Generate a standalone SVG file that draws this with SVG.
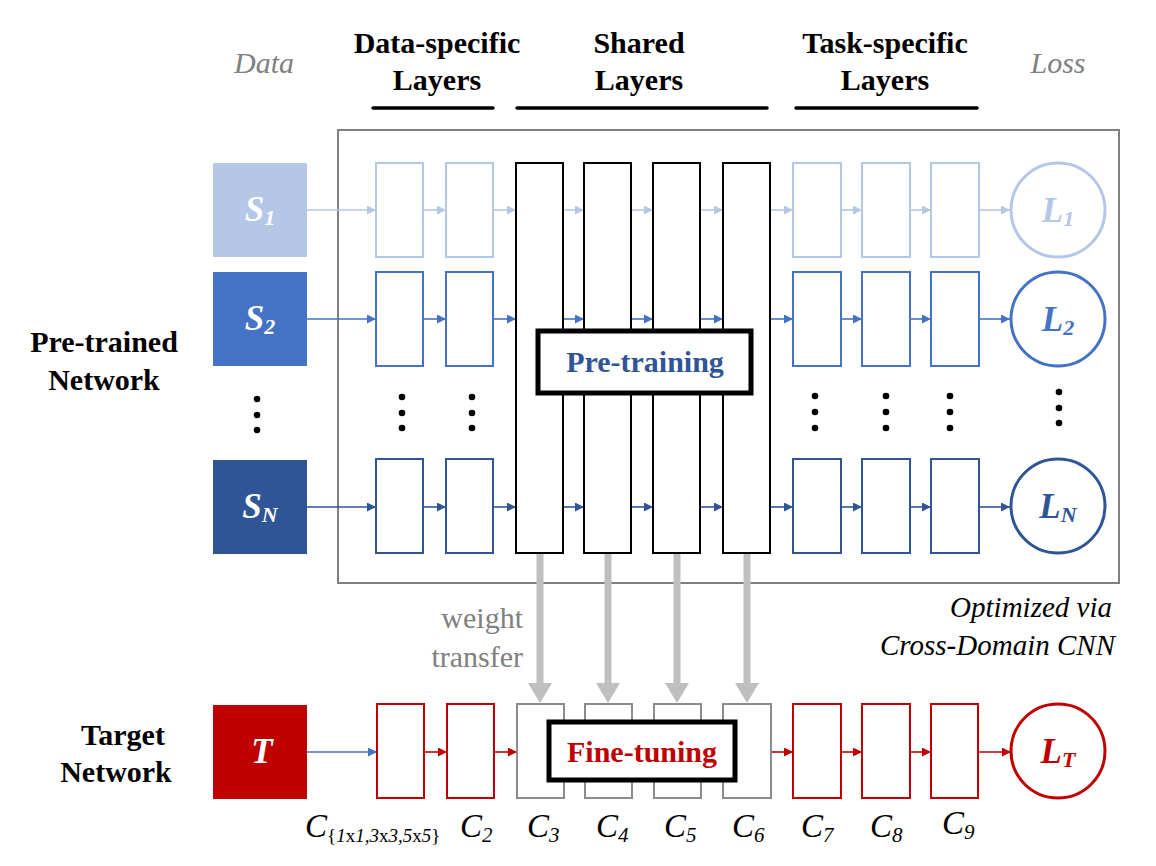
<svg xmlns="http://www.w3.org/2000/svg" width="1156" height="866" viewBox="0 0 1156 866">
<defs>
<style>
text{font-family:"Liberation Serif","Times New Roman",serif;}
.hdr{font-size:30px;font-weight:bold;fill:#000;text-anchor:middle;}
.gi{font-size:30px;font-style:italic;fill:#808080;text-anchor:middle;}
.lbl{font-size:30px;font-weight:bold;fill:#000;text-anchor:middle;}
.sym{font-size:35px;font-weight:bold;font-style:italic;text-anchor:middle;}
.cl{font-size:33px;font-style:italic;fill:#000;}
.r1{fill:#fff;stroke:#B4C7E7;stroke-width:2;}
.r2{fill:#fff;stroke:#4472C4;stroke-width:2;}
.rN{fill:#fff;stroke:#2F5597;stroke-width:2;}
.rR{fill:#fff;stroke:#C00000;stroke-width:2;}
.rG{fill:#fff;stroke:#8C8C8C;stroke-width:2;}
.sh{fill:#fff;stroke:#000;stroke-width:2;}
.a1{stroke:#B4C7E7;stroke-width:1.6;fill:none;marker-end:url(#m1);}
.a2{stroke:#4472C4;stroke-width:1.6;fill:none;marker-end:url(#m2);}
.aN{stroke:#2F5597;stroke-width:1.6;fill:none;marker-end:url(#mN);}
.aR{stroke:#C00000;stroke-width:1.6;fill:none;marker-end:url(#mR);}
.wt{stroke:#BFBFBF;stroke-width:7;fill:none;marker-end:url(#mW);}
.ul{stroke:#000;stroke-width:3.5;stroke-linecap:round;}
.dot{fill:#000;}
</style>
<marker id="m1" viewBox="0 0 10 10" refX="10" refY="5" markerWidth="9" markerHeight="9" markerUnits="userSpaceOnUse" orient="auto"><path d="M0,0 L10,5 L0,10 z" fill="#B4C7E7"/></marker>
<marker id="m2" viewBox="0 0 10 10" refX="10" refY="5" markerWidth="9" markerHeight="9" markerUnits="userSpaceOnUse" orient="auto"><path d="M0,0 L10,5 L0,10 z" fill="#4472C4"/></marker>
<marker id="mN" viewBox="0 0 10 10" refX="10" refY="5" markerWidth="9" markerHeight="9" markerUnits="userSpaceOnUse" orient="auto"><path d="M0,0 L10,5 L0,10 z" fill="#2F5597"/></marker>
<marker id="mR" viewBox="0 0 10 10" refX="10" refY="5" markerWidth="9" markerHeight="9" markerUnits="userSpaceOnUse" orient="auto"><path d="M0,0 L10,5 L0,10 z" fill="#C00000"/></marker>
<marker id="mW" viewBox="0 0 20 24" refX="7" refY="12" markerWidth="20" markerHeight="24" markerUnits="userSpaceOnUse" orient="auto"><path d="M0,0 L20,12 L0,24 z" fill="#BFBFBF"/></marker>
</defs>
<rect width="1156" height="866" fill="#fff"/>

<g id="headers">
<text class="gi" x="264" y="73">Data</text>
<text class="hdr" x="437" y="53">Data-specific</text>
<text class="hdr" x="437" y="90">Layers</text>
<line class="ul" x1="373" y1="108" x2="493" y2="108"/>
<text class="hdr" x="639" y="53">Shared</text>
<text class="hdr" x="639" y="90">Layers</text>
<line class="ul" x1="517" y1="108" x2="767" y2="108"/>
<text class="hdr" x="885" y="53">Task-specific</text>
<text class="hdr" x="885" y="90">Layers</text>
<line class="ul" x1="796" y1="108" x2="977" y2="108"/>
<text class="gi" x="1058" y="73">Loss</text>
</g>

<g id="side-labels">
<text class="lbl" x="104" y="352">Pre-trained</text>
<text class="lbl" x="104" y="390">Network</text>
<text class="lbl" x="123" y="745">Target</text>
<text class="lbl" x="116" y="782">Network</text>
</g>

<g id="cross-domain-box">
<rect x="338" y="130" width="781" height="453" fill="none" stroke="#808080" stroke-width="2"/>
<text x="1112" y="617" font-size="29" font-style="italic" text-anchor="end" fill="#000">Optimized via</text>
<text x="1115" y="655" font-size="29" font-style="italic" text-anchor="end" fill="#000">Cross-Domain CNN</text>
</g>

<g id="connectors">
<line class="a1" x1="307" y1="210" x2="376" y2="210"/>
<line class="a1" x1="423" y1="210" x2="446" y2="210"/>
<line class="a1" x1="493" y1="210" x2="516" y2="210"/>
<line class="a1" x1="563" y1="210" x2="584" y2="210"/>
<line class="a1" x1="631" y1="210" x2="653" y2="210"/>
<line class="a1" x1="700" y1="210" x2="723" y2="210"/>
<line class="a1" x1="770" y1="210" x2="793" y2="210"/>
<line class="a1" x1="841" y1="210" x2="862" y2="210"/>
<line class="a1" x1="910" y1="210" x2="931" y2="210"/>
<line class="a1" x1="979" y1="210" x2="1010" y2="210"/>

<line class="a2" x1="307" y1="319" x2="376" y2="319"/>
<line class="a2" x1="423" y1="319" x2="446" y2="319"/>
<line class="a2" x1="493" y1="319" x2="516" y2="319"/>
<line class="a2" x1="563" y1="319" x2="584" y2="319"/>
<line class="a2" x1="631" y1="319" x2="653" y2="319"/>
<line class="a2" x1="700" y1="319" x2="723" y2="319"/>
<line class="a2" x1="770" y1="319" x2="793" y2="319"/>
<line class="a2" x1="841" y1="319" x2="862" y2="319"/>
<line class="a2" x1="910" y1="319" x2="931" y2="319"/>
<line class="a2" x1="979" y1="319" x2="1010" y2="319"/>

<line class="aN" x1="307" y1="507" x2="376" y2="507"/>
<line class="aN" x1="423" y1="507" x2="446" y2="507"/>
<line class="aN" x1="493" y1="507" x2="516" y2="507"/>
<line class="aN" x1="563" y1="507" x2="584" y2="507"/>
<line class="aN" x1="631" y1="507" x2="653" y2="507"/>
<line class="aN" x1="700" y1="507" x2="723" y2="507"/>
<line class="aN" x1="770" y1="507" x2="793" y2="507"/>
<line class="aN" x1="841" y1="507" x2="862" y2="507"/>
<line class="aN" x1="910" y1="507" x2="931" y2="507"/>
<line class="aN" x1="979" y1="507" x2="1010" y2="507"/>

<line class="a2" x1="307" y1="752" x2="377" y2="752"/>
<line class="aR" x1="424" y1="752" x2="447" y2="752"/>
<line class="aR" x1="494" y1="752" x2="517" y2="752"/>
<line class="aR" x1="771" y1="752" x2="793" y2="752"/>
<line class="aR" x1="841" y1="752" x2="862" y2="752"/>
<line class="aR" x1="910" y1="752" x2="931" y2="752"/>
<line class="aR" x1="978" y1="752" x2="1011" y2="752"/>

<line class="wt" x1="540" y1="553" x2="540" y2="690"/>
<line class="wt" x1="608" y1="553" x2="608" y2="690"/>
<line class="wt" x1="677" y1="553" x2="677" y2="690"/>
<line class="wt" x1="747" y1="553" x2="747" y2="690"/>
</g>

<g id="weight-transfer-label">
<text x="523" y="628" font-size="30" text-anchor="end" fill="#808080">weight</text>
<text x="523" y="667" font-size="30" text-anchor="end" fill="#808080">transfer</text>
</g>

<g id="data-S1">
<rect x="213" y="163" width="94" height="94" fill="#B4C7E7"/>
<text class="sym" x="260" y="221" fill="#fff">S<tspan font-size="22" dy="4">1</tspan></text>
</g>
<g id="data-S2">
<rect x="213" y="272" width="94" height="94" fill="#4472C4"/>
<text class="sym" x="260" y="330" fill="#fff">S<tspan font-size="22" dy="4">2</tspan></text>
</g>
<g id="data-SN">
<rect x="213" y="460" width="94" height="94" fill="#2F5597"/>
<text class="sym" x="260" y="518" fill="#fff">S<tspan font-size="22" dy="4">N</tspan></text>
</g>
<g id="data-T">
<rect x="213" y="705" width="94" height="94" fill="#C00000"/>
<text class="sym" x="262" y="763" fill="#fff">T</text>
</g>

<g id="data-specific-layers">
<rect class="r1" x="376" y="163" width="47" height="94"/>
<rect class="r1" x="446" y="163" width="47" height="94"/>
<rect class="r2" x="376" y="272" width="47" height="94"/>
<rect class="r2" x="446" y="272" width="47" height="94"/>
<rect class="rN" x="376" y="459" width="47" height="94"/>
<rect class="rN" x="446" y="459" width="47" height="94"/>
</g>

<g id="shared-layers">
<rect class="sh" x="516" y="163" width="47" height="390"/>
<rect class="sh" x="584" y="163" width="47" height="390"/>
<rect class="sh" x="653" y="163" width="47" height="390"/>
<rect class="sh" x="723" y="163" width="47" height="390"/>
</g>

<g id="task-specific-layers">
<rect class="r1" x="793" y="163" width="48" height="94"/>
<rect class="r1" x="862" y="163" width="48" height="94"/>
<rect class="r1" x="931" y="163" width="48" height="94"/>
<rect class="r2" x="793" y="272" width="48" height="94"/>
<rect class="r2" x="862" y="272" width="48" height="94"/>
<rect class="r2" x="931" y="272" width="48" height="94"/>
<rect class="rN" x="793" y="459" width="48" height="94"/>
<rect class="rN" x="862" y="459" width="48" height="94"/>
<rect class="rN" x="931" y="459" width="48" height="94"/>
</g>

<g id="loss-L1">
<circle cx="1058" cy="210" r="47" fill="#fff" stroke="#B4C7E7" stroke-width="3"/>
<text class="sym" x="1058" y="222" fill="#B4C7E7">L<tspan font-size="22" dy="4">1</tspan></text>
</g>
<g id="loss-L2">
<circle cx="1058" cy="319" r="47" fill="#fff" stroke="#4472C4" stroke-width="3"/>
<text class="sym" x="1058" y="331" fill="#4472C4">L<tspan font-size="22" dy="4">2</tspan></text>
</g>
<g id="loss-LN">
<circle cx="1058" cy="506" r="47" fill="#fff" stroke="#2F5597" stroke-width="3"/>
<text class="sym" x="1058" y="518" fill="#2F5597">L<tspan font-size="22" dy="4">N</tspan></text>
</g>
<g id="loss-LT">
<circle cx="1058" cy="751" r="47" fill="#fff" stroke="#C00000" stroke-width="3"/>
<text class="sym" x="1058" y="763" fill="#C00000">L<tspan font-size="22" dy="4">T</tspan></text>
</g>

<g id="ellipses">
<circle class="dot" cx="257" cy="399" r="3.3"/><circle class="dot" cx="257" cy="415" r="3.3"/><circle class="dot" cx="257" cy="430" r="3.3"/>
<circle class="dot" cx="402" cy="397" r="3.3"/><circle class="dot" cx="402" cy="413" r="3.3"/><circle class="dot" cx="402" cy="428" r="3.3"/>
<circle class="dot" cx="472" cy="397" r="3.3"/><circle class="dot" cx="472" cy="413" r="3.3"/><circle class="dot" cx="472" cy="428" r="3.3"/>
<circle class="dot" cx="815" cy="396" r="3.3"/><circle class="dot" cx="815" cy="412" r="3.3"/><circle class="dot" cx="815" cy="428" r="3.3"/>
<circle class="dot" cx="886" cy="396" r="3.3"/><circle class="dot" cx="886" cy="412" r="3.3"/><circle class="dot" cx="886" cy="428" r="3.3"/>
<circle class="dot" cx="950" cy="396" r="3.3"/><circle class="dot" cx="950" cy="412" r="3.3"/><circle class="dot" cx="950" cy="428" r="3.3"/>
<circle class="dot" cx="1059" cy="392" r="3.3"/><circle class="dot" cx="1059" cy="408" r="3.3"/><circle class="dot" cx="1059" cy="423" r="3.3"/>
</g>

<g id="pre-training">
<rect x="538" y="331" width="213" height="62" fill="#fff" stroke="#000" stroke-width="5"/>
<text x="645" y="372" font-size="30" font-weight="bold" text-anchor="middle" fill="#2F5597">Pre-training</text>
</g>

<g id="target-layers">
<rect class="rR" x="377" y="704" width="47" height="94"/>
<rect class="rR" x="447" y="704" width="47" height="94"/>
<rect class="rG" x="517" y="704" width="47" height="94"/>
<rect class="rG" x="585" y="704" width="47" height="94"/>
<rect class="rG" x="654" y="704" width="47" height="94"/>
<rect class="rG" x="723" y="704" width="48" height="94"/>
<rect class="rR" x="793" y="704" width="48" height="94"/>
<rect class="rR" x="862" y="704" width="48" height="94"/>
<rect class="rR" x="931" y="704" width="47" height="94"/>
</g>

<g id="fine-tuning">
<rect x="549" y="722" width="186" height="58" fill="#fff" stroke="#000" stroke-width="5"/>
<text x="642" y="762" font-size="30" font-weight="bold" text-anchor="middle" fill="#C00000">Fine-tuning</text>
</g>

<g id="layer-labels">
<text class="cl" x="305" y="837">C<tspan font-size="19" dy="5"><tspan font-style="normal">{</tspan>1<tspan font-style="normal">x</tspan>1,3<tspan font-style="normal">x</tspan>3,5<tspan font-style="normal">x</tspan>5<tspan font-style="normal">}</tspan></tspan></text>
<text class="cl" x="460" y="837">C<tspan font-size="21" dy="5">2</tspan></text>
<text class="cl" x="527" y="837">C<tspan font-size="21" dy="5">3</tspan></text>
<text class="cl" x="596" y="837">C<tspan font-size="21" dy="5">4</tspan></text>
<text class="cl" x="664" y="837">C<tspan font-size="21" dy="5">5</tspan></text>
<text class="cl" x="732" y="837">C<tspan font-size="21" dy="5">6</tspan></text>
<text class="cl" x="801" y="837">C<tspan font-size="21" dy="5">7</tspan></text>
<text class="cl" x="870" y="837">C<tspan font-size="21" dy="5">8</tspan></text>
<text class="cl" x="942" y="834">C<tspan font-size="21" dy="5">9</tspan></text>
</g>
</svg>
